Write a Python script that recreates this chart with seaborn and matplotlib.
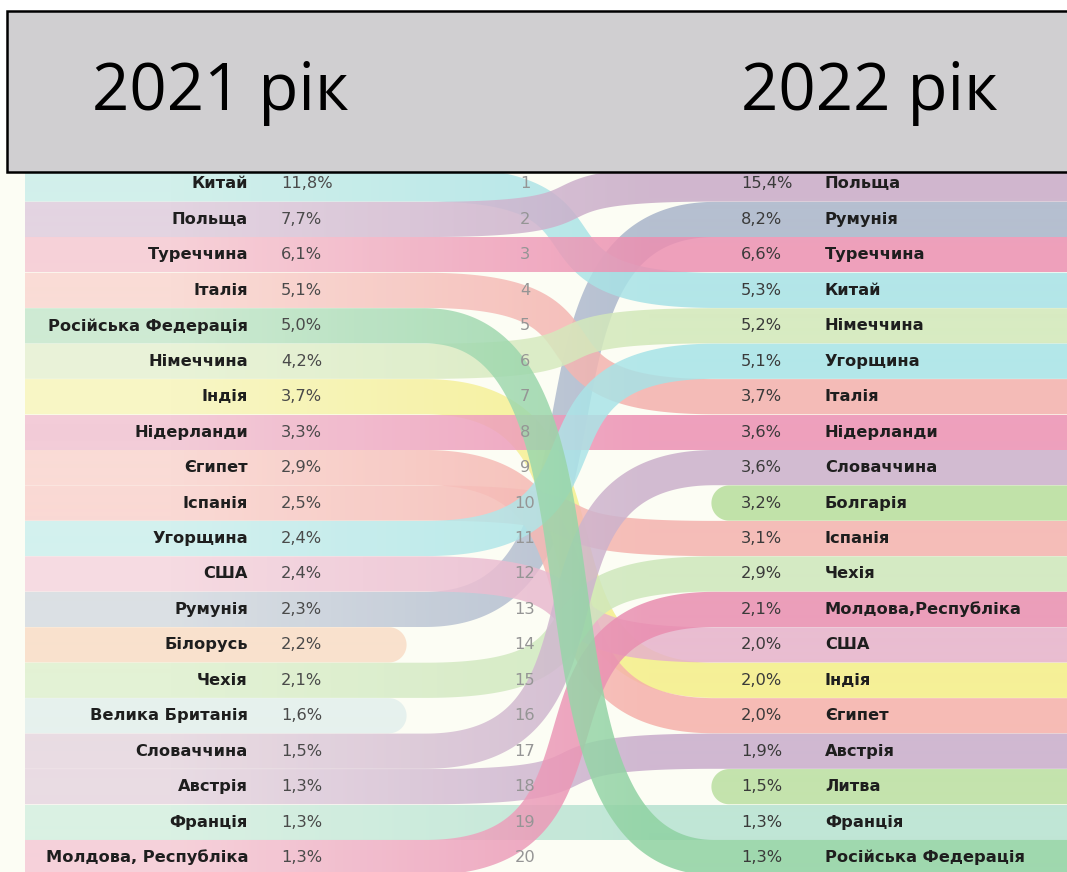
import numpy as np
import matplotlib
matplotlib.use("Agg")
import matplotlib.pyplot as plt
import seaborn as sns
from matplotlib.patches import Polygon, Rectangle

# 2021 ranking (top 20)
countries_2021 = ["Китай", "Польща", "Туреччина", "Італія", "Російська Федерація",
                  "Німеччина", "Індія", "Нідерланди", "Єгипет", "Іспанія",
                  "Угорщина", "США", "Румунія", "Білорусь", "Чехія",
                  "Велика Британія", "Словаччина", "Австрія", "Франція",
                  "Молдова, Республіка"]
share_2021 = ["11,8%", "7,7%", "6,1%", "5,1%", "5,0%", "4,2%", "3,7%", "3,3%", "2,9%", "2,5%",
              "2,4%", "2,4%", "2,3%", "2,2%", "2,1%", "1,6%", "1,5%", "1,3%", "1,3%", "1,3%"]

# 2022 ranking (top 20)
countries_2022 = ["Польща", "Румунія", "Туреччина", "Китай", "Німеччина", "Угорщина",
                  "Італія", "Нідерланди", "Словаччина", "Болгарія", "Іспанія", "Чехія",
                  "Молдова,Республіка", "США", "Індія", "Єгипет", "Австрія", "Литва",
                  "Франція", "Російська Федерація"]
share_2022 = ["15,4%", "8,2%", "6,6%", "5,3%", "5,2%", "5,1%", "3,7%", "3,6%", "3,6%", "3,2%",
              "3,1%", "2,9%", "2,1%", "2,0%", "2,0%", "2,0%", "1,9%", "1,5%", "1,3%", "1,3%"]

ranks = list(range(1, 21))

# ribbon colours: (left / faded, right / saturated)
ribbon_colors = {
    "Китай": ("#cbeeea", "#a6e2e6"),
    "Польща": ("#dfcdde", "#c9abc8"),
    "Туреччина": ("#f6c9d3", "#ec8fb1"),
    "Італія": ("#fad6d1", "#f3b0ac"),
    "Російська Федерація": ("#c6e7cd", "#8fd2a2"),
    "Німеччина": ("#e6f1d3", "#d2e8b9"),
    "Індія": ("#f8f5bd", "#f4ee86"),
    "Нідерланди": ("#f2c3d3", "#ec8fb3"),
    "Єгипет": ("#fad5d1", "#f5b0aa"),
    "Іспанія": ("#fad3cf", "#f4b2ad"),
    "Угорщина": ("#ccefee", "#a6e3e7"),
    "США": ("#f5d5df", "#e6b2cb"),
    "Румунія": ("#d5dbe2", "#a8b4ca"),
    "Білорусь": ("#f9ddc6", "#f9ddc6"),
    "Чехія": ("#dff0d0", "#cde7bb"),
    "Велика Британія": ("#e3efed", "#e3efed"),
    "Словаччина": ("#e6d6e0", "#cbb0cb"),
    "Австрія": ("#e6d6e1", "#c8accb"),
    "Франція": ("#d4efe1", "#b6e2d1"),
    "Молдова, Республіка": ("#f5cad6", "#e98db0"),
    "Болгарія": ("#b7de9c", "#b7de9c"),
    "Литва": ("#badfa0", "#badfa0"),
}
same_country = {"Молдова,Республіка": "Молдова, Республіка"}

sns.set_theme(style="white")
plt.rcParams["font.family"] = ["DejaVu Sans"]

W, H = 1067, 872
fig = plt.figure(figsize=(W / 100, H / 100), dpi=100)
fig.patch.set_facecolor("white")
ax = fig.add_axes([0, 0, 1, 1])

ROW0, DY = 184, 35.45
HALF = 17.6
X_LEFT = 25
BEND_A, BEND_B = 425, 715
DROP_END, NEW_START = 389, 729


def row_y(r):
    return ROW0 + (r - 1) * DY


def centerline(y0, y1):
    if y0 == y1:
        xs = np.linspace(X_LEFT, W + 5, 50)
        return np.column_stack([xs, np.full_like(xs, y0)])
    w = BEND_B - BEND_A
    k = 0.75 * w
    t = np.linspace(0, 1, 400)[:, None]
    p0 = np.array([BEND_A, y0]); p1 = np.array([BEND_A + k, y0])
    p2 = np.array([BEND_B - k, y1]); p3 = np.array([BEND_B, y1])
    bez = ((1 - t) ** 3) * p0 + 3 * ((1 - t) ** 2) * t * p1 + 3 * (1 - t) * t ** 2 * p2 + t ** 3 * p3
    left = np.column_stack([np.linspace(X_LEFT, BEND_A - 2, 30), np.full(30, y0)])
    right = np.column_stack([np.linspace(BEND_B + 2, W + 5, 30), np.full(30, y1)])
    return np.vstack([left, bez, right])


def outline(pts, half, round_start=False, round_end=False):
    d = np.gradient(pts, axis=0)
    d /= np.linalg.norm(d, axis=1)[:, None]
    n = np.column_stack([-d[:, 1], d[:, 0]])
    upper = pts + n * half
    lower = pts - n * half
    parts = [upper]
    if round_end:
        a = np.arctan2(n[-1, 1], n[-1, 0])
        th = np.linspace(a, a - np.pi, 40)
        parts.append(pts[-1] + half * np.column_stack([np.cos(th), np.sin(th)]))
    parts.append(lower[::-1])
    if round_start:
        a = np.arctan2(n[0, 1], n[0, 0])
        th = np.linspace(a + np.pi, a, 40)
        parts.append(pts[0] + half * np.column_stack([np.cos(th), np.sin(th)]))
    return np.vstack(parts)


# background
ax.add_patch(Rectangle((0, 150), W, H - 150, facecolor="#fcfdf4", edgecolor="none", zorder=0))

xgrid = np.arange(W + 10)
grad = np.clip((xgrid - 170) / 480.0, 0, 1)[None, :]

rank_2022 = {same_country.get(c, c): r for c, r in zip(countries_2022, ranks)}
ribbons = []
for c, r in zip(countries_2021, ranks):
    if c in rank_2022:
        ribbons.append((c, centerline(row_y(r), row_y(rank_2022[c])), False, False))
    else:
        xs = np.linspace(X_LEFT, DROP_END, 30)
        ribbons.append((c, np.column_stack([xs, np.full(30, row_y(r))]), False, True))
for c, r in zip(countries_2022, ranks):
    if same_country.get(c, c) not in countries_2021:
        xs = np.linspace(NEW_START, W + 5, 30)
        ribbons.append((c, np.column_stack([xs, np.full(30, row_y(r))]), True, False))

draw_order = ["Румунія"] + [c for c, *_ in ribbons if c not in ("Румунія", "Російська Федерація")] + ["Російська Федерація"]
by_name = {c: (p, rs, re) for c, p, rs, re in ribbons}

for z, c in enumerate(draw_order):
    pts, rs, re = by_name[c]
    cmap = sns.blend_palette(list(ribbon_colors[c]), as_cmap=True)
    im = ax.imshow(grad, cmap=cmap, vmin=0, vmax=1, extent=[0, W + 10, H, 0],
                   aspect="auto", alpha=0.85, interpolation="bilinear", zorder=1 + z * 0.01)
    poly = Polygon(outline(pts, HALF, rs, re), closed=True, transform=ax.transData)
    im.set_clip_path(poly)

# header box
ax.add_patch(Rectangle((7, 11), W + 20, 161, facecolor="#d0cfd1", edgecolor="black",
                       linewidth=1.8, zorder=5))
ax.text(92, 93, "2021 рік", fontsize=47, color="black", ha="left", va="center",
        family=["Open Sans", "DejaVu Sans"], zorder=6)
ax.text(741, 93, "2022 рік", fontsize=47, color="black", ha="left", va="center",
        family=["Open Sans", "DejaVu Sans"], zorder=6)

# labels
FS = 11.7
for c, s, r in zip(countries_2021, share_2021, ranks):
    y = row_y(r)
    ax.text(248, y, c, fontsize=FS, fontweight="bold", color="#1e1e1e", ha="right", va="center", zorder=6)
    ax.text(281, y, s, fontsize=FS, color="#4a4a4a", ha="left", va="center", zorder=6)
    ax.text(525, y, str(r), fontsize=FS, color="#959595", ha="center", va="center", zorder=6)
for c, s, r in zip(countries_2022, share_2022, ranks):
    y = row_y(r)
    ax.text(741, y, s, fontsize=FS, color="#3a3a3a", ha="left", va="center", zorder=6)
    ax.text(825, y, c, fontsize=FS, fontweight="bold", color="#1e1e1e", ha="left", va="center", zorder=6)

ax.set_xlim(0, W)
ax.set_ylim(H, 0)
ax.axis("off")
fig.savefig("out.png", dpi=100, facecolor="white")
